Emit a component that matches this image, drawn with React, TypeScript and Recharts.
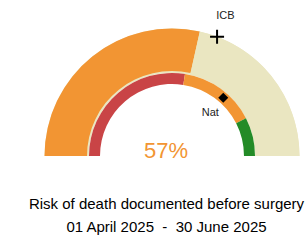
import React from 'react';
import { PieChart, Pie, Cell } from 'recharts';

const valueSeries = [
  { name: 'value', value: 57 },
  { name: 'rest', value: 43 },
];
const bandSeries = [
  { name: 'low', value: 55 },
  { name: 'mid', value: 30 },
  { name: 'high', value: 15 },
];
const icbSeries = [
  { name: 'ICB', value: 61.5 },
  { name: 'restICB', value: 38.5 },
];
const natSeries = [
  { name: 'Nat', value: 73 },
  { name: 'restNat', value: 27 },
];
const backgroundSeries = [{ name: 'bg', value: 100 }];
const headlineLabel = '57%';
const titleLines = ['Risk of death documented before surgery', '01 April 2025  -  30 June 2025'];

const ORANGE = '#F29533';
const BEIGE = '#EAE6C1';
const bandColors = ['#C94446', '#F29533', '#238B27'];

const RAD = Math.PI / 180;
const FONT = 'Arial, "Liberation Sans", sans-serif';

const icbMarker = (props: any) => {
  if (props.index !== 0) return null;
  const { cx, cy, endAngle, outerRadius } = props;
  const a = endAngle * RAD;
  const x = cx + outerRadius * Math.cos(a);
  const y = cy - outerRadius * Math.sin(a);
  const lx = cx + (outerRadius + 23.5) * Math.cos(a);
  const ly = cy - (outerRadius + 23.5) * Math.sin(a);
  return (
    <g>
      <path d={`M${x - 7},${y}H${x + 7}M${x},${y - 7}V${y + 7}`} stroke="#000" strokeWidth={2} fill="none" />
      <text x={lx} y={ly} textAnchor="middle" dominantBaseline="central" fontSize={11} fontFamily={FONT} fill="#222">ICB</text>
    </g>
  );
};

const natMarker = (props: any) => {
  if (props.index !== 0) return null;
  const { cx, cy, endAngle, outerRadius, innerRadius } = props;
  const a = endAngle * RAD;
  const r = (outerRadius + innerRadius) / 2;
  const x = cx + r * Math.cos(a);
  const y = cy - r * Math.sin(a);
  const lx = cx + (r - 19.5) * Math.cos(a);
  const ly = cy - (r - 19.5) * Math.sin(a);
  return (
    <g>
      <path d={`M${x},${y - 5}L${x + 5},${y}L${x},${y + 5}L${x - 5},${y}Z`} fill="#000" />
      <text x={lx} y={ly} textAnchor="middle" dominantBaseline="central" fontSize={11} fontFamily={FONT} fill="#222">Nat</text>
    </g>
  );
};

export default function App() {
  const cx = 167;
  const cy = 151;
  return (
    <div style={{ position: 'absolute', left: 0, top: 0, width: 306, height: 243, background: '#fff', overflow: 'hidden' }}>
      <PieChart width={306} height={243}>
        <Pie data={backgroundSeries} dataKey="value" cx={cx} cy={cy} startAngle={180} endAngle={0}
          innerRadius={83} outerRadius={127.5} fill={BEIGE} stroke="none" isAnimationActive={false} />
        <Pie data={valueSeries} dataKey="value" cx={cx} cy={cy} startAngle={180} endAngle={0}
          innerRadius={85} outerRadius={127.5} stroke="none" isAnimationActive={false}>
          {valueSeries.map((d, i) => (
            <Cell key={d.name} fill={i === 0 ? ORANGE : BEIGE} />
          ))}
        </Pie>
        <Pie data={bandSeries} dataKey="value" cx={cx} cy={cy} startAngle={180} endAngle={0}
          innerRadius={72} outerRadius={83} stroke="none" isAnimationActive={false}>
          {bandSeries.map((d, i) => (
            <Cell key={d.name} fill={bandColors[i]} />
          ))}
        </Pie>
        <Pie data={natSeries} dataKey="value" cx={cx} cy={cy} startAngle={180} endAngle={0}
          innerRadius={72} outerRadius={83} fill="none" stroke="none" labelLine={false}
          label={natMarker} isAnimationActive={false} />
        <Pie data={icbSeries} dataKey="value" cx={cx} cy={cy} startAngle={180} endAngle={0}
          innerRadius={126} outerRadius={127.5} fill="none" stroke="none" labelLine={false}
          label={icbMarker} isAnimationActive={false} />
      </PieChart>
      <div style={{ position: 'absolute', left: 0, width: 332, top: 138.4, textAlign: 'center', fontFamily: FONT, fontSize: 22, color: ORANGE, lineHeight: '26px', pointerEvents: 'none' }}>
        {headlineLabel}
      </div>
      <div style={{ position: 'absolute', left: 0, width: 333, top: 192.3, textAlign: 'center', fontFamily: FONT, fontSize: 15, color: '#000', lineHeight: '23px' }}>
        {titleLines.map((t) => (
          <div key={t} style={{ whiteSpace: 'pre' }}>{t}</div>
        ))}
      </div>
    </div>
  );
}
